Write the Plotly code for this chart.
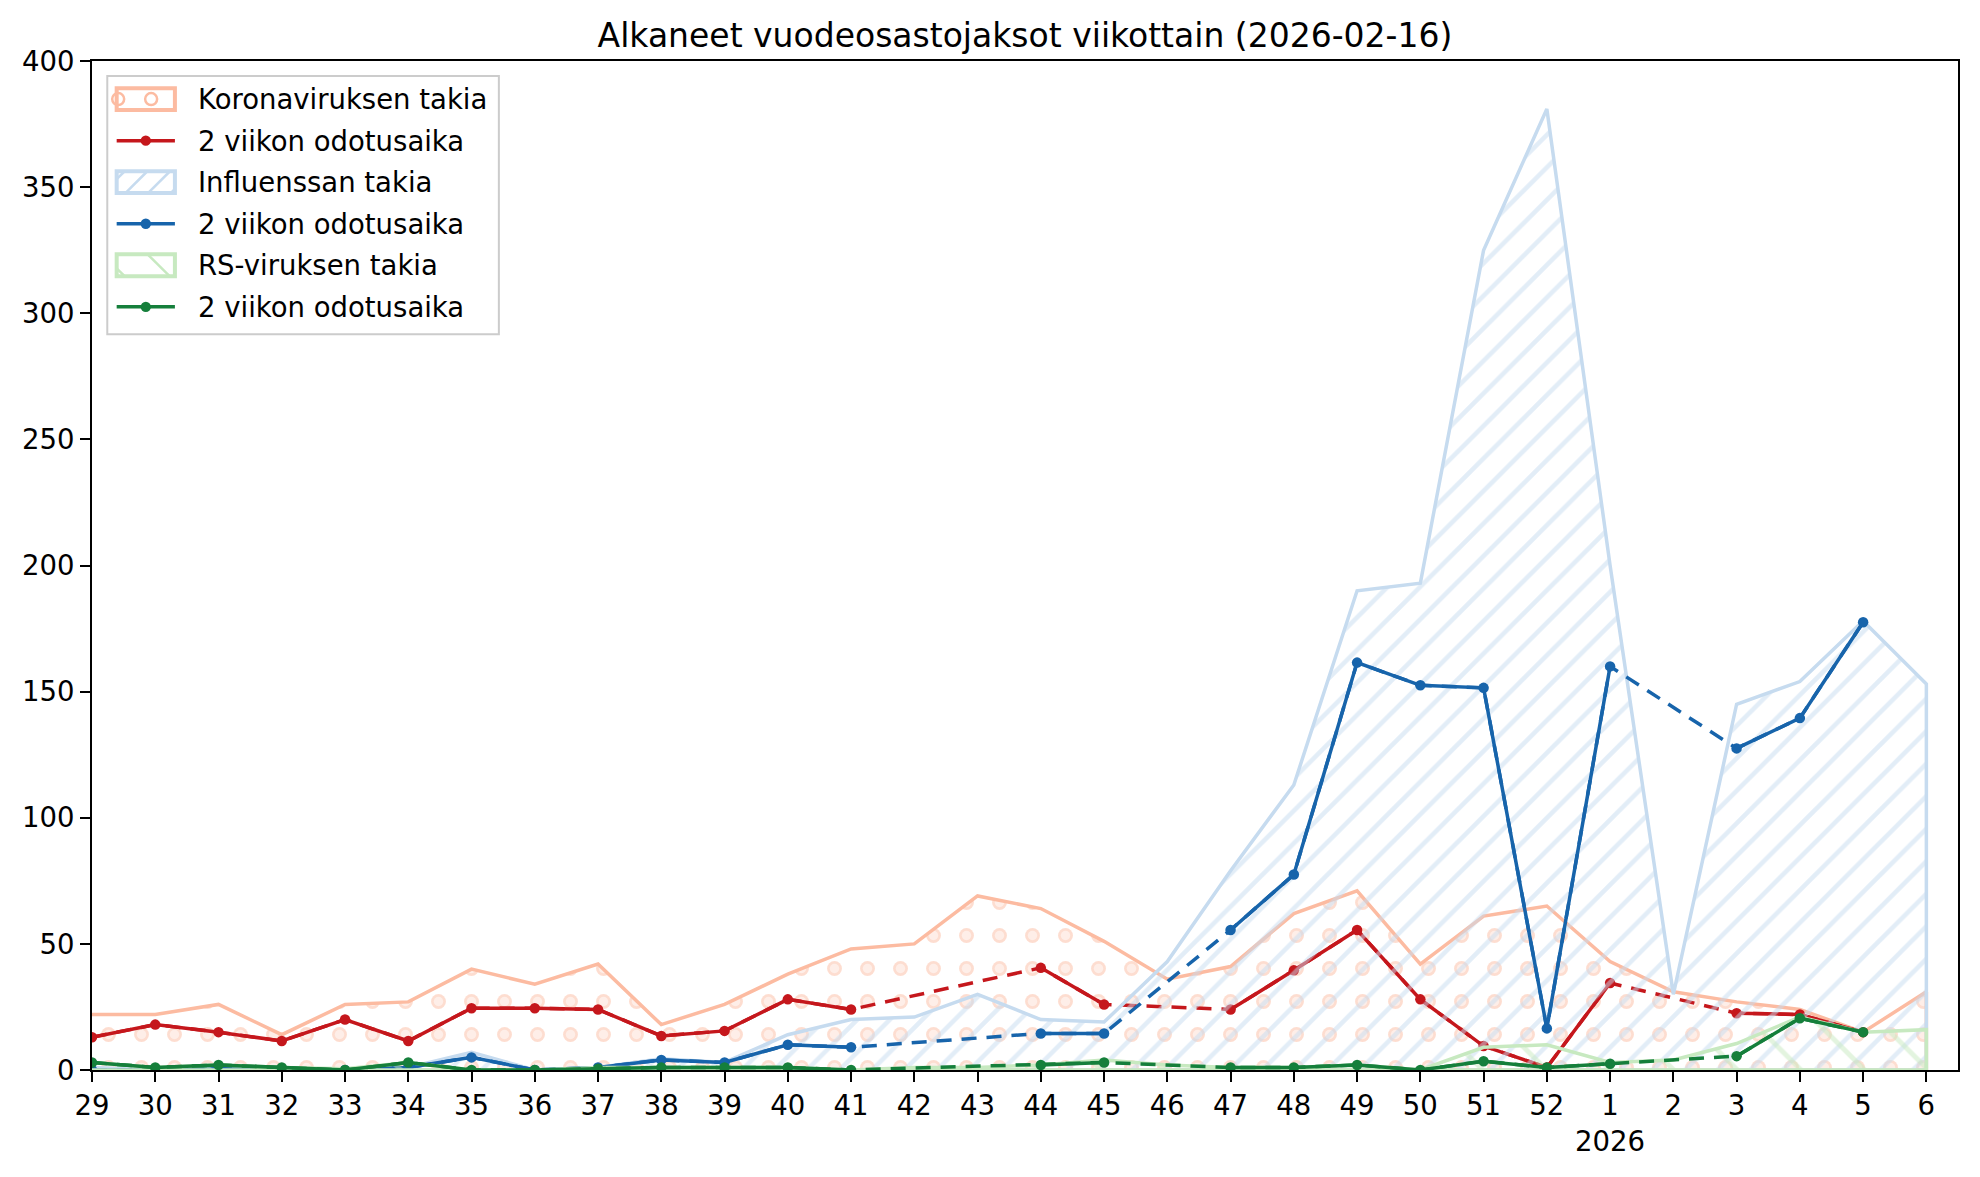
import plotly.graph_objects as go

weeks = ["29", "30", "31", "32", "33", "34", "35", "36", "37", "38", "39", "40", "41", "42",
         "43", "44", "45", "46", "47", "48", "49", "50", "51", "52", "1", "2", "3", "4", "5", "6"]
year_label = {"1": "2026"}

korona = [22, 22, 26, 14, 26, 27, 40, 34, 42, 18, 26, 38, 48, 50, 69, 64, 51, 36, 41, 62,
          71, 42, 61, 65, 43, 31, 27, 24, 15, 31]
korona_2vk = [13, 18, 15, 11.5, 20, 11.5, 24.5, 24.5, 24, 13.5, 15.5, 28, 24, None, None, 40.5, 26,
              None, 24, 39.5, 55.5, 28, 9.5, 1, 34.5, None, 22.5, 22, 15, None]

influenssa = [1, 0, 1, 0, 0, 1, 7, 0, 1, 4.5, 3, 14, 20, 21, 30, 20, 19, 43, 79, 113,
              190, 193, 325, 381, 200, 30, 145, 154, 178, 153]
influenssa_2vk = [0, 0, 0.5, 0, 0, 1, 5, 0, 1, 4, 3, 10, 9, None, None, 14.5, 14.5, None, 55.5, 77.5,
                  161.5, 152.5, 151.5, 16.5, 160, None, 127.5, 139.5, 177.5, None]

rs = [3, 1, 2, 1, 0.5, 3, 0, 0, 1, 1, 1, 1, 0, 1, 1, 2, 4, 2, 1, 1,
      2, 0, 9, 10, 3, 4, 10.5, 21, 15, 16]
rs_2vk = [3, 1, 2, 1, 0, 3, 0, 0, 0.5, 1, 1, 1, 0, None, None, 2, 3, None, 1, 1,
          2, 0, 3.5, 1, 2.5, None, 5.5, 20.5, 15, None]

names = ["Koronaviruksen takia", "Influenssan takia", "RS-viruksen takia"]
ma_name = "2 viikon odotusaika"

light = ["#fcbba1", "#c6dbef", "#c7e9c0"]
dark = ["#c5171c", "#1764ab", "#157f3b"]
# hatch styles: (shape, tile size, solidity, inner "hole" solidity for ring look)
patterns = [dict(shape=".", size=33, solidity=0.16, hole=0.065),
            dict(shape="/", size=23, solidity=0.2, hole=None),
            dict(shape="\\", size=45, solidity=0.11, hole=None)]

# figure geometry (pixels)
W, H = 1964, 1161
L, R, T, B = 84, 12, 53, 93
PW, PH = W - L - R, H - T - B
PBOT = H - B


def px(x):
    return (x - L) / PW


def py(y):
    return (PBOT - y) / PH


idx = list(range(len(weeks)))
ticktext = [w + ("<br>" + year_label[w] if w in year_label else "") for w in weeks]

FONT = "DejaVu Sans"
fig = go.Figure()

for name, area_vals, ma_vals, lc, dc, pat in zip(
        names, [korona, influenssa, rs], [korona_2vk, influenssa_2vk, rs_2vk], light, dark, patterns):
    xs = idx + [idx[-1], idx[0]]
    ys = area_vals + [0, 0]
    has_hole = pat["hole"] is not None
    fig.add_trace(go.Scatter(
        x=xs, y=ys, mode="lines", fill="toself", fillcolor="rgba(0,0,0,0)",
        fillpattern=dict(shape=pat["shape"], fgcolor=lc, size=pat["size"],
                         solidity=pat["solidity"], fillmode="overlay"),
        line=dict(color=lc, width=0 if has_hole else 3.5), name=name,
        hoverinfo="skip", showlegend=False))
    if has_hole:
        # punch the centre of each dot to obtain ring-shaped hatch marks, then draw the outline
        fig.add_trace(go.Scatter(
            x=xs, y=ys, mode="lines", fill="toself", fillcolor="rgba(0,0,0,0)",
            fillpattern=dict(shape=pat["shape"], fgcolor="white", size=pat["size"],
                             solidity=pat["hole"], fillmode="overlay"),
            line=dict(color=lc, width=3.5), hoverinfo="skip", showlegend=False))
    fig.add_trace(go.Scatter(
        x=idx, y=ma_vals, mode="lines", connectgaps=True,
        line=dict(color=dc, width=3.5, dash="15px,10px"), showlegend=False, hoverinfo="skip"))
    fig.add_trace(go.Scatter(
        x=idx, y=ma_vals, mode="lines+markers", connectgaps=False,
        line=dict(color=dc, width=3.5), marker=dict(color=dc, size=10.5),
        name=ma_name, showlegend=False))

# ---- legend drawn as shapes + text (matplotlib-style patches) ----
shapes = []
annotations = []
box = dict(x0=99.3, x1=491.3, y0=68, y1=328)
shapes.append(dict(type="rect", xref="paper", yref="paper",
                   x0=px(box["x0"]), x1=px(box["x1"]), y0=py(box["y1"]), y1=py(box["y0"]),
                   line=dict(color="#cccccc", width=2), fillcolor="white", layer="above"))
row0, row_step = 91.3, 41.8
pl, pr, ph = 108.7, 167.0, 11.0
text_x = 188.0
entries = []
for name, lc, dc in zip(names, light, dark):
    entries.append(("patch", name, lc))
    entries.append(("line", ma_name, dc))


def diag_segments(x0, x1, y0, y1, step, rising, offset):
    segs = []
    h = y1 - y0
    c = x0 + offset - h
    while c < x1:
        if rising:
            xa, ya, xb, yb = c, y1, c + h, y0
        else:
            xa, ya, xb, yb = c, y0, c + h, y1
        if xb > x0 and xa < x1:
            t0 = max(0.0, (x0 - xa) / h)
            t1 = min(1.0, (x1 - xa) / h)
            segs.append((xa + t0 * h, ya + t0 * (yb - ya), xa + t1 * h, ya + t1 * (yb - ya)))
        c += step
    return segs


for i, (kind, label, color) in enumerate(entries):
    yc = row0 + i * row_step
    if kind == "patch":
        if i == 0:
            for cx in (pl + 1.5, pl + 34.5):
                r = 6.0
                shapes.append(dict(type="circle", xref="paper", yref="paper",
                                   x0=px(cx - r), x1=px(cx + r), y0=py(yc + r), y1=py(yc - r),
                                   line=dict(color=color, width=2.5), layer="above"))
        else:
            step = 22.7 if i == 2 else 45
            for (xa, ya, xb, yb) in diag_segments(pl, pr, yc - ph, yc + ph, step, i == 2, 8):
                shapes.append(dict(type="line", xref="paper", yref="paper",
                                   x0=px(xa), x1=px(xb), y0=py(ya), y1=py(yb),
                                   line=dict(color=color, width=2.5), layer="above"))
        shapes.append(dict(type="rect", xref="paper", yref="paper",
                           x0=px(pl), x1=px(pr), y0=py(yc + ph), y1=py(yc - ph),
                           line=dict(color=color, width=4), layer="above"))
    else:
        shapes.append(dict(type="line", xref="paper", yref="paper",
                           x0=px(pl), x1=px(pr), y0=py(yc), y1=py(yc),
                           line=dict(color=color, width=3.5), layer="above"))
        cx, r = (pl + pr) / 2, 5.2
        shapes.append(dict(type="circle", xref="paper", yref="paper",
                           x0=px(cx - r), x1=px(cx + r), y0=py(yc + r), y1=py(yc - r),
                           line=dict(color=color, width=0), fillcolor=color, layer="above"))
    annotations.append(dict(text=label, xref="paper", yref="paper", x=px(text_x), y=py(yc),
                            xanchor="left", yanchor="middle", showarrow=False,
                            font=dict(family=FONT, size=27.5, color="black")))

fig.update_layout(
    width=W, height=H,
    margin=dict(l=L, r=R, t=T, b=B),
    paper_bgcolor="white", plot_bgcolor="white",
    font=dict(family=FONT, size=27.5, color="black"),
    title=dict(text="Alkaneet vuodeosastojaksot viikottain (2026-02-16)",
               x=0.5, xref="paper", xanchor="center",
               y=1 - 27 / H, yref="container", yanchor="middle",
               font=dict(family=FONT, size=33, color="black")),
    showlegend=False,
    shapes=shapes,
    annotations=annotations,
)
fig.update_xaxes(range=[0, 29.5], tickmode="array", tickvals=idx, ticktext=ticktext,
                 showgrid=False, zeroline=False, showline=True, linecolor="black", linewidth=2,
                 mirror=True, ticks="outside", ticklen=10, tickwidth=2, tickcolor="black",
                 tickfont=dict(family=FONT, size=27.5, color="black"))
fig.update_yaxes(range=[0, 400], tickmode="array", tickvals=list(range(0, 401, 50)),
                 showgrid=False, zeroline=False, showline=True, linecolor="black", linewidth=2,
                 mirror=True, ticks="outside", ticklen=10, tickwidth=2, tickcolor="black",
                 tickfont=dict(family=FONT, size=27.5, color="black"))

fig.write_html("out.html")
